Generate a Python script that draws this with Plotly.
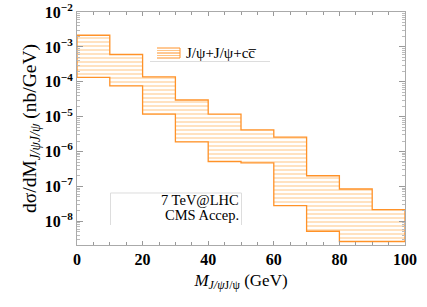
import plotly.graph_objects as go

# Data (histogram band, bin width 10 GeV)
bin_edges = [0, 10, 20, 30, 40, 50, 60, 70, 80, 90, 100]
upper = [2.16e-3, 6.06e-4, 1.39e-4, 3.0e-5, 1.18e-5, 4.17e-6, 2.58e-6, 2.02e-7, 8.43e-8, 2.16e-8]
lower = [1.34e-4, 7.64e-5, 1.18e-5, 1.89e-6, 5.18e-7, 4.75e-7, 2.81e-8, 5.18e-9, 2.63e-9, 2.63e-9]
series_name = "J/ψ+J/ψ+cc\u0305"
x_ticks = [0, 20, 40, 60, 80, 100]
y_tick_exps = [-8, -7, -6, -5, -4, -3, -2]

xs, ys = [], []
for i in range(len(upper)):
    xs += [bin_edges[i], bin_edges[i + 1]]
    ys += [upper[i], upper[i]]
for i in reversed(range(len(lower))):
    xs += [bin_edges[i + 1], bin_edges[i]]
    ys += [lower[i], lower[i]]
xs.append(xs[0]); ys.append(ys[0])

ORANGE = "rgb(255,146,40)"
HATCH = "rgba(255,160,55,0.9)"
SERIF = "Liberation Serif"

# page body margin is removed (post_script) so the figure fills the window exactly
W, H = 427, 307
ML, MR, MT, MB = 77, 22, 12, 62
PW, PH = W - ML - MR, H - MT - MB


def px(x_screen):
    return (x_screen - ML) / PW


def py(y_screen):
    return (H - MB - y_screen) / PH


fig = go.Figure()
fig.add_trace(go.Scatter(
    x=xs, y=ys, mode="lines", fill="toself",
    line=dict(color=ORANGE, width=1.3),
    fillcolor="rgba(0,0,0,0)",
    fillpattern=dict(shape="-", size=4, solidity=0.35, fgcolor=HATCH, bgcolor="rgba(255,255,255,0)"),
    name=series_name, showlegend=False, hoverinfo="skip",
))

axis_common = dict(
    showline=True, linecolor="#aaaaaa", linewidth=1, mirror="allticks",
    ticks="inside", tickcolor="#999999", showgrid=False, zeroline=False, automargin=False,
    ticklabeloverflow="allow",
    tickfont=dict(family=SERIF, size=16, color="black"),
)

fig.update_xaxes(
    range=[0, 100], tickvals=x_ticks, ticktext=["<b>%d</b>" % v for v in x_ticks], ticklen=4,
    minor=dict(ticks="inside", dtick=5, ticklen=3, tickcolor="#999999"),
    title=dict(text="<i>M</i><sub><i>J/ψ</i>J/ψ</sub> (GeV)", font=dict(family=SERIF, size=17, color="black"), standoff=6),
    **axis_common,
)
fig.update_yaxes(
    type="log", range=[-8.68, -1.999],
    tickvals=[10.0 ** e for e in y_tick_exps],
    ticktext=["<b>10<sup>\u2212%d</sup></b>" % (-e) for e in y_tick_exps],
    ticklen=6,
    minor=dict(ticks="inside", dtick="D1", ticklen=3, tickcolor="#bbbbbb"),
    title=dict(text="dσ/dM<sub><i>J/ψJ/ψ</i></sub> (nb/GeV)", font=dict(family=SERIF, size=19.5, color="black"), standoff=3),
    **axis_common,
)

# legend (drawn manually): hatched swatch + label
sw_x0, sw_x1, sw_y0, sw_y1 = 157, 180, 48, 58
shapes = []
for k, yy in enumerate([48, 50.5, 53, 55.5, 58]):
    shapes.append(dict(type="line", xref="paper", yref="paper", x0=px(sw_x0), x1=px(sw_x1), y0=py(yy), y1=py(yy),
                       line=dict(color=ORANGE if k % 2 == 0 else "rgba(255,190,120,0.9)", width=1)))
shapes.append(dict(type="line", xref="paper", yref="paper", x0=px(sw_x1), x1=px(sw_x1), y0=py(sw_y0), y1=py(sw_y1),
                   line=dict(color=ORANGE, width=1)))
shapes.append(dict(type="line", xref="paper", yref="paper", x0=px(150), x1=px(270), y0=py(61.5), y1=py(61.5),
                   line=dict(color="#dddddd", width=1)))
# label box
shapes.append(dict(type="path", xref="paper", yref="paper",
                   path="M %f %f L %f %f L %f %f L %f %f" % (px(110.5), py(225), px(110.5), py(193), px(241.5), py(193), px(241.5), py(225)),
                   line=dict(color="#dddddd", width=1)))

fig.update_layout(
    width=W, height=H,
    margin=dict(l=ML, r=MR, t=MT, b=MB, autoexpand=False),
    paper_bgcolor="white", plot_bgcolor="white",
    showlegend=False,
    shapes=shapes,
    annotations=[
        dict(text=series_name, xref="paper", yref="paper", x=px(184), y=py(53), xanchor="left", yanchor="middle",
             showarrow=False, font=dict(family=SERIF, size=15, color="black")),
        dict(text="7 TeV@LHC", xref="paper", yref="paper", x=px(240.5), y=py(200), xanchor="right", yanchor="middle",
             showarrow=False, font=dict(family=SERIF, size=14.5, color="black")),
        dict(text="CMS Accep.", xref="paper", yref="paper", x=px(240.5), y=py(215), xanchor="right", yanchor="middle",
             showarrow=False, font=dict(family=SERIF, size=14.5, color="black")),
    ],
)

fig.write_html("out.html", config={"displayModeBar": False},
               post_script="document.body.style.margin='0px';document.body.style.overflow='hidden';")
